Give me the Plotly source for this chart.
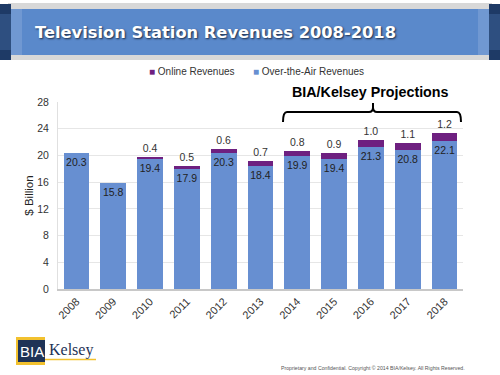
import plotly.graph_objects as go

years = ["2008", "2009", "2010", "2011", "2012", "2013", "2014", "2015", "2016", "2017", "2018"]
ota = [20.3, 15.8, 19.4, 17.9, 20.3, 18.4, 19.9, 19.4, 21.3, 20.8, 22.1]
online = [None, None, 0.4, 0.5, 0.6, 0.7, 0.8, 0.9, 1.0, 1.1, 1.2]
y_ticks = [0, 4, 8, 12, 16, 20, 24, 28]

BLUE = "#678FD1"
PURPLE = "#6E2080"
FONT = "Liberation Sans, Arial, sans-serif"

W, H = 500, 375
L, R, T, B = 58, 37, 102, 86
PW, PH = W - L - R, H - T - B


def px(x):
    return (x - L) / PW


def py(y):
    return (H - B - y) / PH


fig = go.Figure()
fig.add_trace(go.Bar(
    x=years, y=ota, name="Over-the-Air Revenues", marker_color=BLUE,
    text=[f"{v:.1f}" for v in ota], textposition="inside", insidetextanchor="end",
    textangle=0, constraintext="none",
    textfont=dict(size=10.5, color="#222", family=FONT), showlegend=False,
    marker_line_width=0,
))
fig.add_trace(go.Bar(
    x=years, y=online, name="Online Revenues", marker_color=PURPLE,
    text=[("" if v is None else f"{v:.1f}") for v in online], textposition="outside",
    textangle=0, constraintext="none",
    textfont=dict(size=10.5, color="#333", family=FONT), showlegend=False,
    marker_line_width=0, cliponaxis=False,
))

shapes = []
# title band shadow
shapes.append(dict(type="rect", xref="paper", yref="paper", x0=px(8), x1=px(492), y0=py(60), y1=py(3),
                   fillcolor="#D8D8D8", line_width=0, layer="below"))
shapes.append(dict(type="rect", xref="paper", yref="paper", x0=px(11), x1=px(489), y0=py(55), y1=py(9),
                   fillcolor="#5A89CB", line_width=0, layer="below"))
shapes.append(dict(type="rect", xref="paper", yref="paper", x0=px(11), x1=px(22), y0=py(55), y1=py(9),
                   fillcolor="#7098D2", line_width=0, layer="below"))
shapes.append(dict(type="rect", xref="paper", yref="paper", x0=px(478), x1=px(489), y0=py(55), y1=py(9),
                   fillcolor="#7098D2", line_width=0, layer="below"))
for x0, x1 in [(0, 11), (489, 500)]:
    shapes.append(dict(type="rect", xref="paper", yref="paper", x0=px(x0), x1=px(x1), y0=py(60), y1=py(4),
                       fillcolor="#2E4F80", line_width=0, layer="below"))
    shapes.append(dict(type="rect", xref="paper", yref="paper", x0=px(x0), x1=px(x1), y0=py(14), y1=py(4),
                       fillcolor="#1E3A66", line_width=0, layer="below"))
    shapes.append(dict(type="rect", xref="paper", yref="paper", x0=px(x0), x1=px(x1), y0=py(60), y1=py(50),
                       fillcolor="#1E3A66", line_width=0, layer="below"))

# projection bracket
xl, xr, xc = px(283), px(461), px(373)
yb, yt, ytip = py(122), py(112), py(103)
dx = 4 / PW
dy = 4 / PH
path = (f"M {xl},{yb} Q {xl},{yt} {xl+dx},{yt} L {xc-dx},{yt} Q {xc},{yt} {xc},{yt+dy*1.2} "
        f"L {xc},{ytip} M {xc},{yt+dy*1.2} Q {xc},{yt} {xc+dx},{yt} L {xr-dx},{yt} Q {xr},{yt} {xr},{yb}")
shapes.append(dict(type="path", xref="paper", yref="paper", path=path, line=dict(color="black", width=2)))

# logo
shapes.append(dict(type="rect", xref="paper", yref="paper", x0=px(16), x1=px(45), y0=py(365), y1=py(337),
                   fillcolor="#F2C12E", line_width=0))
shapes.append(dict(type="rect", xref="paper", yref="paper", x0=px(18), x1=px(45), y0=py(362), y1=py(340),
                   fillcolor="#1F3356", line_width=0))
shapes.append(dict(type="line", xref="paper", yref="paper", x0=px(45), x1=px(96), y0=py(359.5), y1=py(359.5),
                   line=dict(color="#F2C12E", width=1.5)))

annotations = [
    dict(text="<b>Television Station Revenues 2008-2018</b>", xref="paper", yref="paper",
         x=px(33), y=py(32), xanchor="left", yanchor="middle", showarrow=False,
         font=dict(size=16.3, color="white", family="DejaVu Sans, " + FONT, shadow="1px 1px 2px #1a2a44")),
    dict(text=f"<span style='color:{PURPLE}'>■</span> Online Revenues", xref="paper", yref="paper",
         x=px(147), y=py(71), xanchor="left", yanchor="middle", showarrow=False,
         font=dict(size=10, color="#333", family=FONT)),
    dict(text=f"<span style='color:{BLUE}'>■</span> Over-the-Air Revenues", xref="paper", yref="paper",
         x=px(251), y=py(71), xanchor="left", yanchor="middle", showarrow=False,
         font=dict(size=10, color="#333", family=FONT)),
    dict(text="<b>BIA/Kelsey Projections</b>", xref="paper", yref="paper",
         x=px(370), y=py(92), xanchor="center", yanchor="middle", showarrow=False,
         font=dict(size=14.3, color="black", family=FONT)),
    dict(text="BIA", xref="paper", yref="paper", x=px(31.5), y=py(351), xanchor="center", yanchor="middle",
         showarrow=False, font=dict(size=15, color="white", family=FONT)),
    dict(text="Kelsey", xref="paper", yref="paper", x=px(47), y=py(350), xanchor="left", yanchor="middle",
         showarrow=False, font=dict(size=16, color="#1F3356", family="Liberation Serif, serif")),
    dict(text="Proprietary and Confidential. Copyright © 2014 BIA/Kelsey. All Rights Reserved.",
         xref="paper", yref="paper", x=px(467), y=py(368), xanchor="right", yanchor="middle",
         showarrow=False, font=dict(size=5.2, color="#555", family=FONT)),
]

fig.update_layout(
    width=W, height=H, margin=dict(l=L, r=R, t=T, b=B, autoexpand=False),
    paper_bgcolor="white", plot_bgcolor="white",
    barmode="stack", bargap=0.3, showlegend=False,
    font=dict(family=FONT, color="#333"),
    shapes=shapes, annotations=annotations,
)
fig.update_xaxes(type="category", tickangle=-45, tickfont=dict(size=11, color="#333"),
                 showline=True, linecolor="#C8C8C8", linewidth=1.5, showgrid=False, ticks="")
fig.update_yaxes(range=[0, 28], tickvals=y_ticks, tickfont=dict(size=10.5, color="#333"),
                 showgrid=True, gridcolor="#E6E6E6", gridwidth=1, showline=True, linecolor="#E0E0E0",
                 zeroline=False, ticklabelstandoff=6,
                 title=dict(text="$ Billion", font=dict(size=11.5, color="#222"), standoff=1))

fig.write_html("out.html", config={"displayModeBar": False},
               post_script="document.body.style.margin='0';")
